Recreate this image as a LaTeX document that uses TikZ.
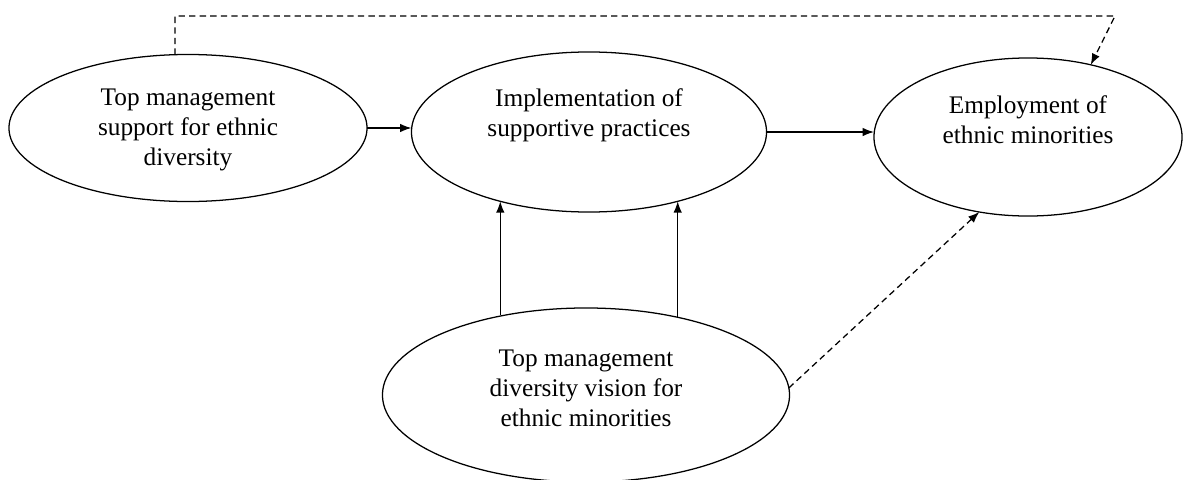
\documentclass[tikz,border=0pt]{standalone}
\usepackage{fontspec}
\setmainfont{Liberation Serif}
\usetikzlibrary{shapes.geometric, arrows.meta}

\begin{document}
\begin{tikzpicture}[x=0.025cm, y=-0.025cm,
    factor/.style={ellipse, draw, line width=0.9pt, inner sep=0pt, outer sep=0pt},
    txt/.style={align=center, font=\fontsize{18}{21.3}\selectfont},
    arr/.style={line width=0.9pt, -{Latex[length=8pt, width=6pt]}},
    dasharr/.style={arr, dash pattern=on 4.5pt off 3pt}]
      \useasboundingbox (0,0) rectangle (1184,480);
      % the four factors
      \node[factor, minimum width=8.95cm, minimum height=3.675cm] (support) at (188,128) {};
      \node[factor, minimum width=8.875cm, minimum height=4cm] (practices) at (589,132) {};
      \node[factor, minimum width=7.7cm, minimum height=3.95cm] (employment) at (1028,137) {};
      \node[factor, minimum width=10.175cm, minimum height=4.35cm] (vision) at (586,395) {};
      \node[txt] (supporttext) at (188,130) {Top management\\support for ethnic\\diversity};
      \node[txt] (practicestext) at (589,115) {Implementation of\\supportive practices};
      \node[txt] (employmenttext) at (1028,120) {Employment of\\ethnic minorities};
      \node[txt] (visiontext) at (586,388) {Top management\\diversity vision for\\ethnic minorities};
      % solid paths
      \draw[arr] (support.east) -- (support.east -| practices.west);
      \draw[arr] (practices.east) -- (practices.east -| employment.west);
      \draw[arr] (practices.218.7 |- vision.136.5) -- (practices.218.7);
      \draw[arr] (practices.-38.3 |- vision.40.7) -- (practices.-38.3);
      % dashed paths
      \coordinate (corner) at (1115,16);
      \draw[dasharr] (support.100) |- (corner) -- (employment.49);
      \draw[dasharr] (vision.2) -- (employment.237);
\end{tikzpicture}
\end{document}
